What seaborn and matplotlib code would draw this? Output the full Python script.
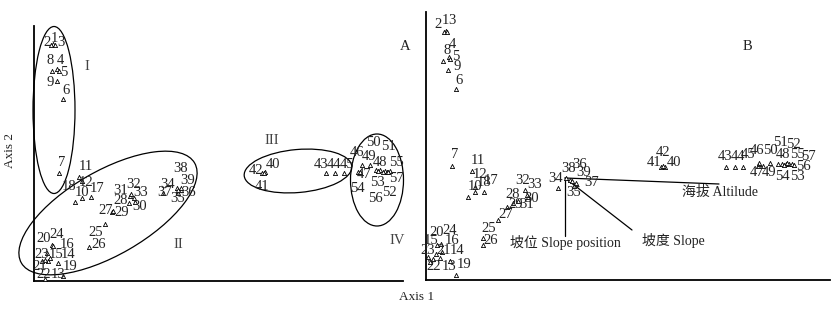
import matplotlib
matplotlib.use("Agg")
import matplotlib.pyplot as plt
from matplotlib.patches import Ellipse
import seaborn as sns
import pandas as pd

sns.set_theme(style="white")
plt.rcParams['font.family'] = ['Liberation Serif', 'Noto Sans CJK SC']

sites = list(range(1, 58))

# ---- Panel A: site scores (Axis 1, Axis 2) ----
a_x = [19, 17, 21, 23, 25, 29, 25, 18, 23, 48, 45, 48, 29, 14, 11, 16, 57, 41, 24, 18,
       8, 11, 13, 19, 71, 55, 78, 95, 79, 101, 96, 97, 100, 143, 144, 147, 129, 144, 147, 231,
       228, 230, 292, 301, 310, 328, 324, 346, 336, 342, 351, 353, 344, 326, 356, 349, 354]
a_y = [237, 236, 236, 212, 210, 182, 108, 210, 200, 83, 104, 100, 5, 20, 21, 23, 84, 79, 18, 36,
       20, 2, 28, 35, 57, 34, 69, 78, 70, 79, 85, 87, 83, 93, 88, 91, 88, 91, 93, 109,
       108, 108, 108, 108, 108, 116, 109, 111, 116, 111, 110, 109, 110, 109, 110, 109, 109]
a_lx = [20, 13, 27, 26, 30, 32, 28, 16, 16, 48, 52, 52, 24, 34, 22, 33, 63, 35, 36, 10,
        6, 10, 8, 23, 62, 65, 72, 87, 88, 106, 87, 100, 107, 134, 144, 155, 131, 147, 154, 239,
        228, 222, 287, 300, 313, 323, 330, 346, 335, 339, 354, 355, 343, 323, 362, 341, 362]
a_ly = [243, 239, 239, 221, 208, 191, 118, 220, 199, 89, 114, 99, 7, 27, 27, 37, 93, 94, 14, 43,
        15, 7, 27, 46, 49, 37, 71, 81, 69, 74, 91, 97, 88, 97, 82, 89, 89, 113, 101, 117,
        94, 111, 116, 117, 117, 129, 106, 119, 125, 138, 134, 88, 99, 93, 119, 83, 103]
group_names = ["I", "II", "III", "IV"]
group_cx = [20, 74, 264, 343]
group_cy = [171, 68, 110, 101]
group_w = [42, 200, 108, 53]
group_h = [167, 84, 43, 92]
group_ang = [0, 30, 5, 0]
group_lx = [53, 144, 238, 363]
group_ly = [215, 36, 141, 41]

# ---- Panel B: site scores + environmental vectors ----
b_x = [20, 18, 21, 23, 24, 30, 26, 17, 22, 49, 46, 49, 30, 14, 10, 16, 58, 42, 24, 11,
       7, 4, 2, 15, 57, 57, 72, 87, 81, 102, 92, 99, 101, 132, 148, 144, 150, 140, 146, 239,
       235, 237, 300, 309, 317, 333, 332, 356, 337, 344, 352, 360, 363, 358, 366, 368, 361]
b_y = [249, 248, 248, 223, 221, 191, 114, 219, 210, 88, 109, 93, 5, 22, 26, 28, 88, 83, 19, 35,
       21, 18, 23, 36, 42, 35, 60, 77, 73, 83, 79, 90, 85, 92, 94, 100, 97, 102, 99, 113,
       113, 114, 113, 113, 113, 117, 114, 116, 114, 117, 116, 116, 116, 115, 116, 115, 117]
b_lx = [19, 12, 26, 26, 30, 33, 29, 21, 31, 49, 52, 54, 23, 31, 5, 26, 65, 58, 38, 11,
        18, 8, 2, 24, 63, 65, 80, 87, 90, 106, 101, 97, 109, 130, 148, 154, 166, 143, 158, 248,
        228, 237, 299, 312, 322, 331, 331, 357, 343, 344, 354, 367, 371, 356, 371, 377, 382]
b_ly = [259, 255, 259, 235, 224, 200, 125, 229, 214, 94, 119, 105, 14, 29, 40, 40, 100, 98, 16, 48,
        29, 14, 30, 49, 51, 39, 66, 85, 75, 81, 75, 99, 95, 102, 88, 115, 98, 112, 107, 118,
        118, 127, 123, 123, 125, 129, 108, 125, 108, 130, 137, 135, 103, 103, 125, 113, 123]
env_names = ["海拔 Altilude", "坡位 Slope position", "坡度 Slope"]
env_x0 = [139, 139, 139]
env_y0 = [102, 102, 102]
env_x1 = [293, 139, 206]
env_y1 = [96, 44, 50]
env_lx = [294, 139, 247]
env_ly = [88, 38, 40]

W, H = 837, 313
fig = plt.figure(figsize=(W / 100, H / 100), dpi=100)
fig.patch.set_facecolor("white")


def make_axes(left, right, top, bottom):
    ax = fig.add_axes([left / W, (H - bottom) / H, (right - left) / W, (bottom - top) / H])
    ax.set_xlim(0, right - left)
    ax.set_ylim(0, bottom - top)
    ax.set_facecolor("white")
    for s in ["top", "right"]:
        ax.spines[s].set_visible(False)
    for s in ["left", "bottom"]:
        ax.spines[s].set_color("black")
        ax.spines[s].set_linewidth(1.3)
    ax.set_xticks([])
    ax.set_yticks([])
    ax.set_xlabel("")
    ax.set_ylabel("")
    return ax


fs = 10.5
txtc = "#222222"

# Panel A
axA = make_axes(34, 403, 26, 281)
dfA = pd.DataFrame({"x": a_x, "y": a_y})
sns.scatterplot(data=dfA, x="x", y="y", marker="^", s=9, facecolor="white",
                edgecolor="black", linewidth=0.6, ax=axA, clip_on=False, zorder=3)
for i, s in enumerate(sites):
    axA.text(a_lx[i], a_ly[i], str(s), ha="center", va="center", fontsize=fs, color=txtc)
for i, g in enumerate(group_names):
    axA.add_patch(Ellipse((group_cx[i], group_cy[i]), group_w[i], group_h[i], angle=group_ang[i],
                          fill=False, edgecolor="black", linewidth=0.9, clip_on=False))
    axA.text(group_lx[i], group_ly[i], g, ha="center", va="center", fontsize=fs, color="#444444")
axA.set_xlabel("")
axA.set_ylabel("")

# Panel B
axB = make_axes(426, 830, 12, 280)
dfB = pd.DataFrame({"x": b_x, "y": b_y})
sns.scatterplot(data=dfB, x="x", y="y", marker="^", s=9, facecolor="white",
                edgecolor="black", linewidth=0.6, ax=axB, clip_on=False, zorder=3)
for i, s in enumerate(sites):
    axB.text(b_lx[i], b_ly[i], str(s), ha="center", va="center", fontsize=fs, color=txtc)
for i, n in enumerate(env_names):
    axB.plot([env_x0[i], env_x1[i]], [env_y0[i], env_y1[i]], color="black", linewidth=0.9)
    axB.text(env_lx[i], env_ly[i], n, ha="center", va="center", fontsize=fs - 0.5, color=txtc)
axB.set_xlabel("")
axB.set_ylabel("")

fig.text(405 / W, 1 - 46 / H, "A", ha="center", va="center", fontsize=fs, color=txtc)
fig.text(747 / W, 1 - 46 / H, "B", ha="center", va="center", fontsize=fs, color=txtc)
fig.text(417 / W, 1 - 297 / H, "Axis 1", ha="center", va="center", fontsize=fs - 1, color=txtc)
fig.text(10 / W, 1 - 150 / H, "Axis 2", ha="center", va="center", rotation=90, fontsize=fs - 1, color=txtc)

fig.savefig("out.png", dpi=100, facecolor="white")
